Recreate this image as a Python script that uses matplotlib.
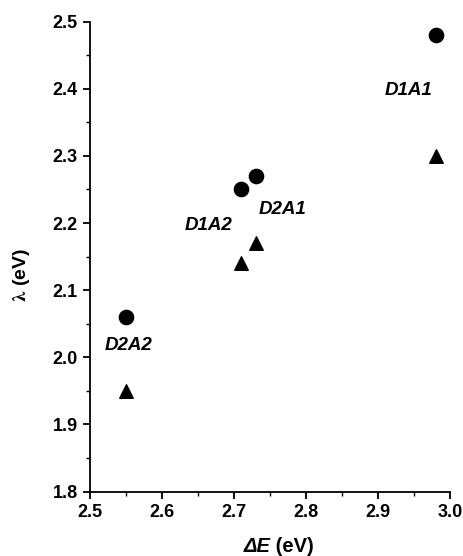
import matplotlib
matplotlib.use('Agg')
import matplotlib.pyplot as plt
from matplotlib.ticker import MultipleLocator

plt.rcParams['font.family'] = 'Liberation Sans'
plt.rcParams['font.weight'] = 'bold'
plt.rcParams['mathtext.fontset'] = 'stix'

# data
dE = [2.55, 2.71, 2.73, 2.98]
lam_circle = [2.06, 2.25, 2.27, 2.48]
lam_tri = [1.95, 2.14, 2.17, 2.30]
names = ['D2A2', 'D1A2', 'D2A1', 'D1A1']
name_x = [2.553, 2.665, 2.768, 2.942]
name_y = [2.017, 2.196, 2.220, 2.397]

fig = plt.figure(figsize=(4.64, 5.56), dpi=100)
ax = fig.add_axes([0.194, 0.116, 0.776, 0.845])

ax.scatter(dE, lam_circle, marker='o', s=105, color='k', zorder=3, clip_on=False)
ax.scatter(dE, lam_tri, marker='^', s=95, color='k', zorder=3, clip_on=False)

for nm, x, y in zip(names, name_x, name_y):
    ax.text(x, y, nm, fontsize=13.5, fontstyle='italic', fontweight='bold',
            ha='center', va='center')

ax.set_xlim(2.5, 3.0)
ax.set_ylim(1.8, 2.5)
ax.xaxis.set_major_locator(MultipleLocator(0.1))
ax.xaxis.set_minor_locator(MultipleLocator(0.05))
ax.yaxis.set_major_locator(MultipleLocator(0.1))
ax.yaxis.set_minor_locator(MultipleLocator(0.05))
ax.xaxis.set_major_formatter(plt.FormatStrFormatter('%.1f'))
ax.yaxis.set_major_formatter(plt.FormatStrFormatter('%.1f'))

for side in ['top', 'right']:
    ax.spines[side].set_visible(False)
for side in ['left', 'bottom']:
    ax.spines[side].set_linewidth(1.3)
ax.tick_params(which='major', direction='out', length=5, width=1.3, labelsize=13, pad=4)
ax.tick_params(which='minor', direction='out', length=3, width=1.0)
for lbl in ax.get_xticklabels() + ax.get_yticklabels():
    lbl.set_fontweight('bold')

# y label: serif lambda with bold "(eV)"
ax.text(-0.189, 0.461, r'$\mathrm{\lambda}$ (eV)', transform=ax.transAxes,
        fontsize=14, fontweight='bold', rotation=90, ha='center', va='center')

# x label: italic "ΔE" followed by bold " (eV)"
ax.text(0.5, -0.118, '\u0394E', transform=ax.transAxes, fontsize=14.5,
        fontstyle='italic', fontweight='bold', ha='right', va='center')
ax.text(0.5, -0.118, ' (eV)', transform=ax.transAxes, fontsize=14.5,
        fontweight='bold', ha='left', va='center')

plt.savefig('out.png', dpi=100)
